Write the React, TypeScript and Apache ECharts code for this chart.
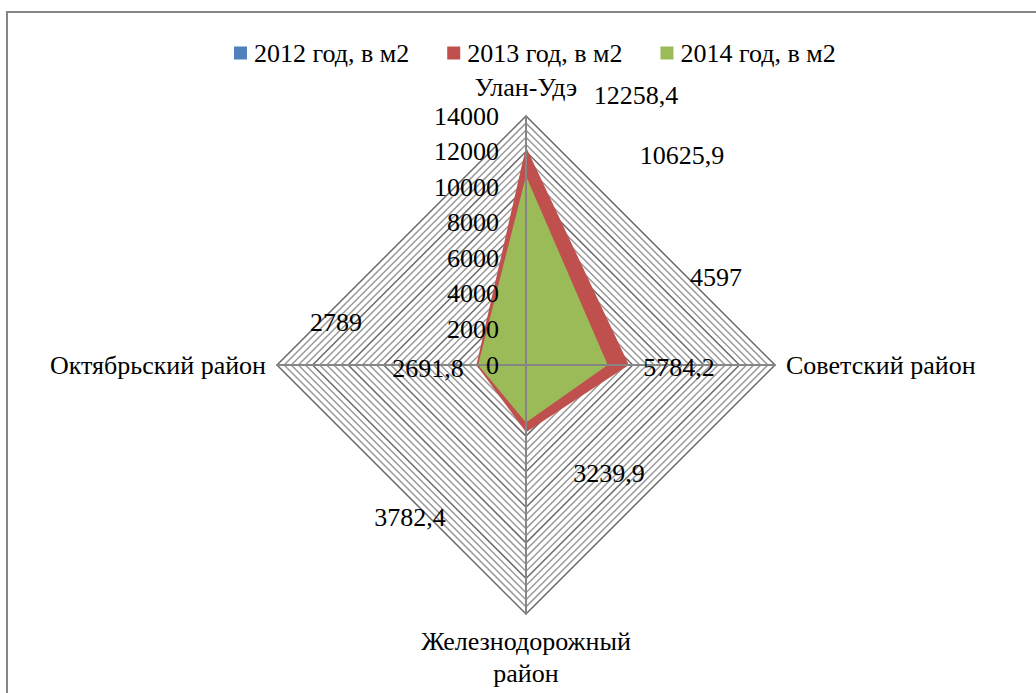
import React, { useEffect, useRef } from "react";
import * as echarts from "echarts";

const categories = ["Улан-Удэ", "Советский район", "Железнодорожный район", "Октябрьский район"];
const seriesNames = ["2012 год, в м2", "2013 год, в м2", "2014 год, в м2"];
const values2012: number[] = [];
const values2013 = [12258.4, 5784.2, 3782.4, 2789];
const values2014 = [10625.9, 4597, 3239.9, 2691.8];
const axisMin = 0;
const axisMax = 14000;
const majorStep = 2000;
const minorStep = 400;
const colors = ["#4F81BD", "#C0504D", "#9BBB59"];

// Excel-like positions of the data labels (layout only)
const labelPos2013 = [[636, 95], [679, 367], [410, 517], [336, 322]];
const labelPos2014 = [[682, 155], [716, 277], [609, 473], [428, 368]];

// ECharts places radar indicators counter-clockwise; Excel goes clockwise
const order = [0, 3, 2, 1];
const fmt = (v: number) => String(v).replace(".", ",");
const FONT = "Liberation Serif";

export default function App() {
  const ref = useRef<HTMLDivElement>(null);
  useEffect(() => {
    if (!ref.current) return;
    const chart = echarts.init(ref.current, undefined, { renderer: "svg" });
    const allValues = [values2012, values2013, values2014];
    const labelTexts: any[] = [];
    [[values2013, labelPos2013], [values2014, labelPos2014]].forEach(([vals, pos]: any) => {
      vals.forEach((v: number, i: number) => {
        labelTexts.push({
          type: "text",
          x: pos[i][0],
          y: pos[i][1],
          z: 100,
          style: {
            text: fmt(v),
            fill: "#000",
            fontSize: 26,
            fontFamily: FONT,
            align: "center",
            verticalAlign: "middle",
          },
        });
      });
    });
    const majorEvery = majorStep / minorStep;
    const splitColors: string[] = [];
    for (let i = 0; i < majorEvery; i++) splitColors.push(i === 0 ? "#6a6a6a" : "#9a9a9a");
    const common = {
      center: [526, 365],
      radius: 249,
      shape: "polygon",
      startAngle: 90,
      splitNumber: (axisMax - axisMin) / minorStep,
    };
    chart.setOption({
      animation: false,
      backgroundColor: "#fff",
      color: colors,
      legend: {
        data: seriesNames,
        left: 229,
        top: 35,
        itemWidth: 13,
        itemHeight: 13,
        itemGap: 38,
        icon: "rect",
        textStyle: { fontSize: 26, fontFamily: FONT, color: "#000", padding: [0, 0, 0, 2] },
      },
      radar: [
        {
          ...common,
          z: 1,
          axisName: { show: false },
          axisLine: { show: false },
          splitLine: { lineStyle: { color: splitColors, width: 1.5 } },
          splitArea: { show: false },
          axisLabel: { show: false },
          indicator: order.map((k) => ({ name: categories[k], min: axisMin, max: axisMax })),
        },
        {
          ...common,
          z: 10,
          nameGap: 11,
          axisName: {
            color: "#000",
            fontSize: 26,
            fontFamily: FONT,
            lineHeight: 32,
            formatter: (n: string) => n.replace("Железнодорожный ", "Железнодорожный\n"),
          },
          axisLine: { lineStyle: { color: "#868686", width: 2 } },
          splitLine: { show: false },
          splitArea: { show: false },
          axisLabel: {
            show: false,
            fontSize: 26,
            fontFamily: FONT,
            color: "#000",
            margin: 27,
            formatter: (v: number) => (v % majorStep === 0 ? String(v) : ""),
          },
          indicator: order.map((k, idx) => ({
            name: categories[k],
            min: axisMin,
            max: axisMax,
            ...(idx === 0 ? { axisLabel: { show: true } } : {}),
          })),
        },
      ],
      series: seriesNames.map((name, s) => ({
        type: "radar",
        name,
        radarIndex: 0,
        symbol: "none",
        z: 2 + s,
        lineStyle: { width: 0 },
        areaStyle: { opacity: 1, color: colors[s] },
        data: allValues[s].length ? [{ name, value: order.map((k) => allValues[s][k]) }] : [],
      })),
      graphic: [
        {
          type: "rect",
          shape: { x: 7, y: 12, width: 1100, height: 800 },
          style: { fill: "none", stroke: "#868686", lineWidth: 2 },
          z: 0,
        },
        ...labelTexts,
      ],
    });
    return () => chart.dispose();
  }, []);
  return (
    <div
      ref={ref}
      style={{ position: "absolute", left: 0, top: 0, width: 1036, height: 693 }}
    />
  );
}
